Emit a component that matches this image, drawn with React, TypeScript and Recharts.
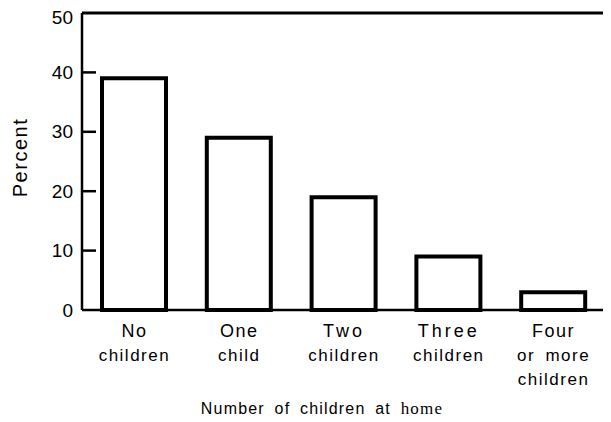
import React from 'react';
import { BarChart, Bar, XAxis, YAxis, ReferenceLine } from 'recharts';

const categories = ['No children', 'One child', 'Two children', 'Three children', 'Four or more children'];
const labelLines: string[][] = [
  ['No', 'children'],
  ['One', 'child'],
  ['Two', 'children'],
  ['Three', 'children'],
  ['Four', 'or more', 'children'],
];
const percentValues = [39, 29, 19, 9, 3];
const yTicks = [0, 10, 20, 30, 40, 50];

const data = categories.map((c, i) => ({ name: c, value: percentValues[i] }));

const FONT = '"Liberation Sans", Arial, Helvetica, sans-serif';

const YTick = (props: any) => {
  const { x, y, payload } = props;
  const v = payload.value;
  const axisX = x + 9;
  return (
    <g>
      <text x={x} y={y} textAnchor="end" dominantBaseline="central" fontSize={19} fontFamily={FONT} fill="#000">
        {v}
      </text>
      {v > 0 && v < 50 ? <line x1={axisX} x2={axisX + 14} y1={y} y2={y} stroke="#000" strokeWidth={2.5} /> : null}
    </g>
  );
};

const XTick = (props: any) => {
  const { x, y, index } = props;
  const lines = labelLines[index] || [];
  return (
    <g>
      {lines.map((l, i) => (
        <text
          key={i}
          x={x}
          y={y + 27 + i * 24}
          textAnchor="middle"
          fontSize={i === 0 ? 18 : 17}
          fontFamily={FONT}
          letterSpacing={l === 'Two' || l === 'Three' ? 3 : 1.5}
          wordSpacing={4}
          fill="#000"
        >
          {l}
        </text>
      ))}
    </g>
  );
};

export default function App() {
  return (
    <BarChart
      width={603}
      height={414}
      data={data}
      margin={{ top: 5, right: 0, left: 0, bottom: 0 }}
      barSize={64}
    >
      <XAxis
        dataKey="name"
        height={112}
        padding={{ left: 0, right: 4 }}
        tickLine={false}
        tickSize={0}
        tickMargin={0}
        interval={0}
        axisLine={{ stroke: '#000', strokeWidth: 2.5 }}
        tick={<XTick />}
        label={{
          content: (p: any) => {
            const vb = p.viewBox;
            return (
              <text
                x={vb.x + vb.width / 2 - 24}
                y={vb.y + 104}
                textAnchor="middle"
                fontSize={16}
                fontFamily={FONT}
                letterSpacing={1.2}
                wordSpacing={4}
                fill="#000"
              >
                Number of children at{' '}
                <tspan fontFamily='"Liberation Serif", "Times New Roman", serif' fontSize={17}>
                  home
                </tspan>
              </text>
            );
          },
        }}
      />
      <YAxis
        domain={[0, 50]}
        ticks={yTicks}
        width={74}
        tickLine={false}
        tickSize={0}
        tickMargin={9}
        axisLine={{ stroke: '#000', strokeWidth: 2.5 }}
        tick={<YTick />}
        label={{
          content: (p: any) => {
            const vb = p.viewBox;
            const cx = vb.x + 12;
            const cy = vb.y + vb.height / 2 - 4;
            return (
              <text
                x={cx}
                y={cy}
                transform={`rotate(-90 ${cx} ${cy})`}
                textAnchor="middle"
                dominantBaseline="central"
                fontSize={20}
                letterSpacing={1.5}
                fontFamily={FONT}
                fill="#000"
              >
                Percent
              </text>
            );
          },
        }}
      />
      <YAxis
        yAxisId="r"
        orientation="right"
        domain={[0, 50]}
        width={1}
        tick={false}
        tickLine={false}
        axisLine={{ stroke: '#000', strokeWidth: 2.5 }}
      />
      <ReferenceLine y={50} stroke="#000" strokeWidth={3} />
      <Bar dataKey="value" fill="#fff" stroke="#000" strokeWidth={4} isAnimationActive={false} />
    </BarChart>
  );
}
